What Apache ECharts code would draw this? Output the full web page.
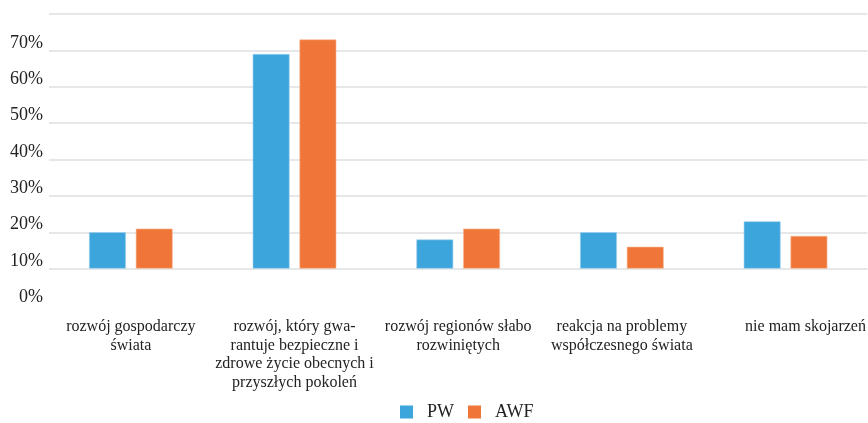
<!DOCTYPE html>
<html>
<head>
<meta charset="utf-8">
<script src="https://cdn.jsdelivr.net/npm/echarts@6/dist/echarts.min.js"></script>
<style>
  html, body { margin: 0; padding: 0; background: #fff; }
  #chart { width: 868px; height: 423px; }
</style>
</head>
<body>
<div id="chart"></div>
<script>
const categories = [
  "rozwój gospodarczy\nświata",
  "rozwój, który gwa-\nrantuje bezpieczne i\nzdrowe życie obecnych i\nprzyszłych pokoleń",
  "rozwój regionów słabo\nrozwiniętych",
  "reakcja na problemy\nwspółczesnego świata",
  "nie mam skojarzeń",
];
const pw = [20, 69, 18, 20, 23];
const awf = [21, 73, 21, 16, 19];
// bars in the source start at the 10% line
const barBase = 10;

const serif = "Liberation Serif";
const base = categories.map(() => barBase);

// last label sits a bit to the right in the source (cut by the edge)
const catData = categories.map((c, i) =>
  i === categories.length - 1
    ? { value: c, textStyle: { fontFamily: serif, padding: [0, 0, 0, 40] } }
    : c
);

let myChart = echarts.init(document.getElementById("chart"));
myChart.setOption({
  animation: false,
  textStyle: { fontFamily: serif },
  grid: { left: 49, right: -9, top: 14, bottom: 118 },
  legend: {
    top: 398,
    left: 395,
    itemWidth: 13,
    itemHeight: 13,
    itemGap: 14,
    icon: "rect",
    data: ["PW", "AWF"],
    itemStyle: { borderWidth: 0 },
    textStyle: { fontFamily: serif, fontSize: 18, color: "#222", padding: [0, 0, 0, 9] },
  },
  xAxis: {
    type: "category",
    data: catData,
    axisLine: { show: false },
    axisTick: { show: false },
    axisLabel: {
      interval: 0,
      margin: 13,
      fontFamily: serif,
      fontSize: 16,
      lineHeight: 18.5,
      color: "#222",
    },
  },
  yAxis: {
    type: "value",
    min: 0,
    max: 80,
    interval: 10,
    axisLine: { show: false },
    axisTick: { show: false },
    axisLabel: {
      margin: 6,
      verticalAlign: "bottom",
      lineHeight: 15,
      fontFamily: serif,
      fontSize: 18,
      color: "#222",
      formatter: (v) => (v >= 80 ? "" : v + "%"),
    },
    splitLine: {
      lineStyle: {
        color: ["rgba(0,0,0,0)", "#dcdfe0", "#dcdfe0", "#dcdfe0", "#dcdfe0",
                "#dcdfe0", "#dcdfe0", "#dcdfe0", "#dcdfe0"],
        width: 1.5,
      },
    },
  },
  series: [
    {
      name: "pw-base",
      type: "bar",
      stack: "pw",
      data: base,
      barWidth: "22.5%",
      barGap: "27%",
      itemStyle: { color: "rgba(0,0,0,0)" },
      silent: true,
    },
    {
      name: "PW",
      type: "bar",
      stack: "pw",
      data: pw.map((v) => v - barBase),
      barWidth: "22.5%",
      barGap: "27%",
      itemStyle: { color: "#3ba5dc", borderColor: "#9fd0ee", borderWidth: 0.6 },
    },
    {
      name: "awf-base",
      type: "bar",
      stack: "awf",
      data: base,
      barWidth: "22.5%",
      barGap: "27%",
      itemStyle: { color: "rgba(0,0,0,0)" },
      silent: true,
    },
    {
      name: "AWF",
      type: "bar",
      stack: "awf",
      data: awf.map((v) => v - barBase),
      barWidth: "22.5%",
      barGap: "27%",
      itemStyle: { color: "#ef7538", borderColor: "#f6b894", borderWidth: 0.6 },
    },
  ],
});
</script>
</body>
</html>
